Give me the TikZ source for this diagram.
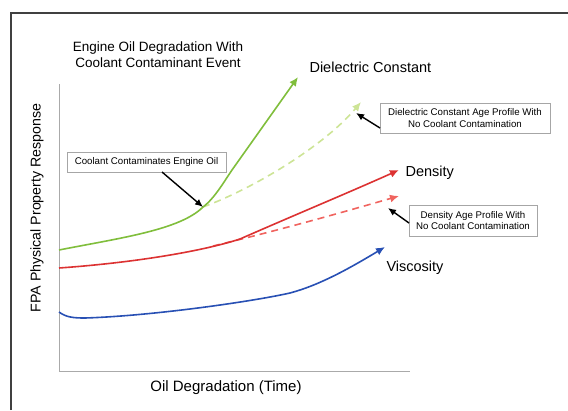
\documentclass[tikz,border=0pt]{standalone}
\usepackage{fontspec}
\setmainfont{Liberation Sans}
\usetikzlibrary{arrows.meta}
\definecolor{gsolid}{RGB}{128,190,60}
\definecolor{gdash}{RGB}{205,228,150}
\definecolor{rsolid}{RGB}{220,50,50}
\definecolor{rdash}{RGB}{240,100,95}
\definecolor{bsolid}{RGB}{40,80,180}
\definecolor{axisgray}{RGB}{170,170,170}
\tikzset{
  curve/.style={line width=1.6pt},
  tipped/.style={-{Latex[length=9pt,width=8pt]}},
  dashcurve/.style={line width=1.6pt,dash pattern=on 7pt off 5pt},
  note/.style={draw=gray!70,line width=0.7pt,fill=white,font=\fontsize{9.7}{11.5}\selectfont,align=center,inner sep=2pt},
  pointer/.style={black,line width=1.4pt,-{Latex[length=8pt,width=7pt]}},
  label/.style={font=\fontsize{13.5}{16}\selectfont,align=center},
  serlabel/.style={font=\fontsize{14.5}{17}\selectfont,anchor=west},
}
\begin{document}
\begin{tikzpicture}[x=1pt,y=-1pt]
\useasboundingbox (0,0) rectangle (568,410);
% outer frame
\draw[line width=1.2pt,black!75] (11,410) -- (11,13) -- (568,13);
% axes
\coordinate (ytop) at (59,84);
\coordinate (org) at (59,371);
\coordinate (xend) at (410,371);
\draw[axisgray,line width=0.9pt] (ytop) -- (org) -- (xend);
% titles and labels
\node[label] (title) at (158,55) {Engine Oil Degradation With\\Coolant Contaminant Event};
\node[serlabel] (dc) at (306,67) {Dielectric Constant};
\node[serlabel] (den) at (402,173) {Density};
\node[serlabel] (visc) at (383,268) {Viscosity};
\node[font=\fontsize{14.2}{17}\selectfont,rotate=90] (ylab) at (37,208) {FPA Physical Property Response};
\node[font=\fontsize{15}{18}\selectfont] (xlab) at (226,388) {Oil Degradation (Time)};
% coordinates
\coordinate (g0) at (59,250);
\coordinate (gc) at (203,207);
\coordinate (gend) at (298,77);
\coordinate (gdend) at (361,102);
\coordinate (r0) at (59,268);
\coordinate (rc) at (213,246);
\coordinate (rend) at (399,170);
\coordinate (rdend) at (399,196);
\coordinate (b0) at (59,312);
\coordinate (bend) at (385,247);
% green
\draw[gdash,dashcurve,tipped] (gc) .. controls (255,188) and (325,145) .. (gdend);
\draw[gsolid,curve,tipped] (g0) .. controls (120,238) and (180,230) .. (gc)
   .. controls (215,198) and (225,180) .. (232,170) -- (gend);
% red
\draw[rdash,dashcurve,tipped] (rc) .. controls (280,230) and (340,213) .. (rdend);
\draw[rsolid,curve,tipped] (r0) .. controls (130,263) and (200,252) .. (240,239)
   .. controls (290,217) and (350,192) .. (rend);
% blue
\draw[bsolid,curve,tipped] (b0) .. controls (66,317) and (72,318) .. (85,318)
   .. controls (150,316) and (250,302) .. (290,293) .. controls (320,285) and (350,268) .. (bend);
% notes
\node[note,minimum width=159pt,minimum height=20pt] (n1) at (146.5,162) {Coolant Contaminates Engine Oil};
\node[note,minimum width=170pt,minimum height=30pt] (n2) at (465,118) {Dielectric Constant Age Profile With\\No Coolant Contamination};
\node[note,minimum width=128pt,minimum height=31pt] (n3) at (473,220.5) {Density Age Profile With\\No Coolant Contamination};
\coordinate (p1) at (162,172);
\coordinate (p2) at (380,128);
\coordinate (p3) at (409,223);
\draw[pointer] (p1) -- (gc);
\draw[pointer] (p2) -- (356,113);
\draw[pointer] (p3) -- (388,208);
\end{tikzpicture}
\end{document}
